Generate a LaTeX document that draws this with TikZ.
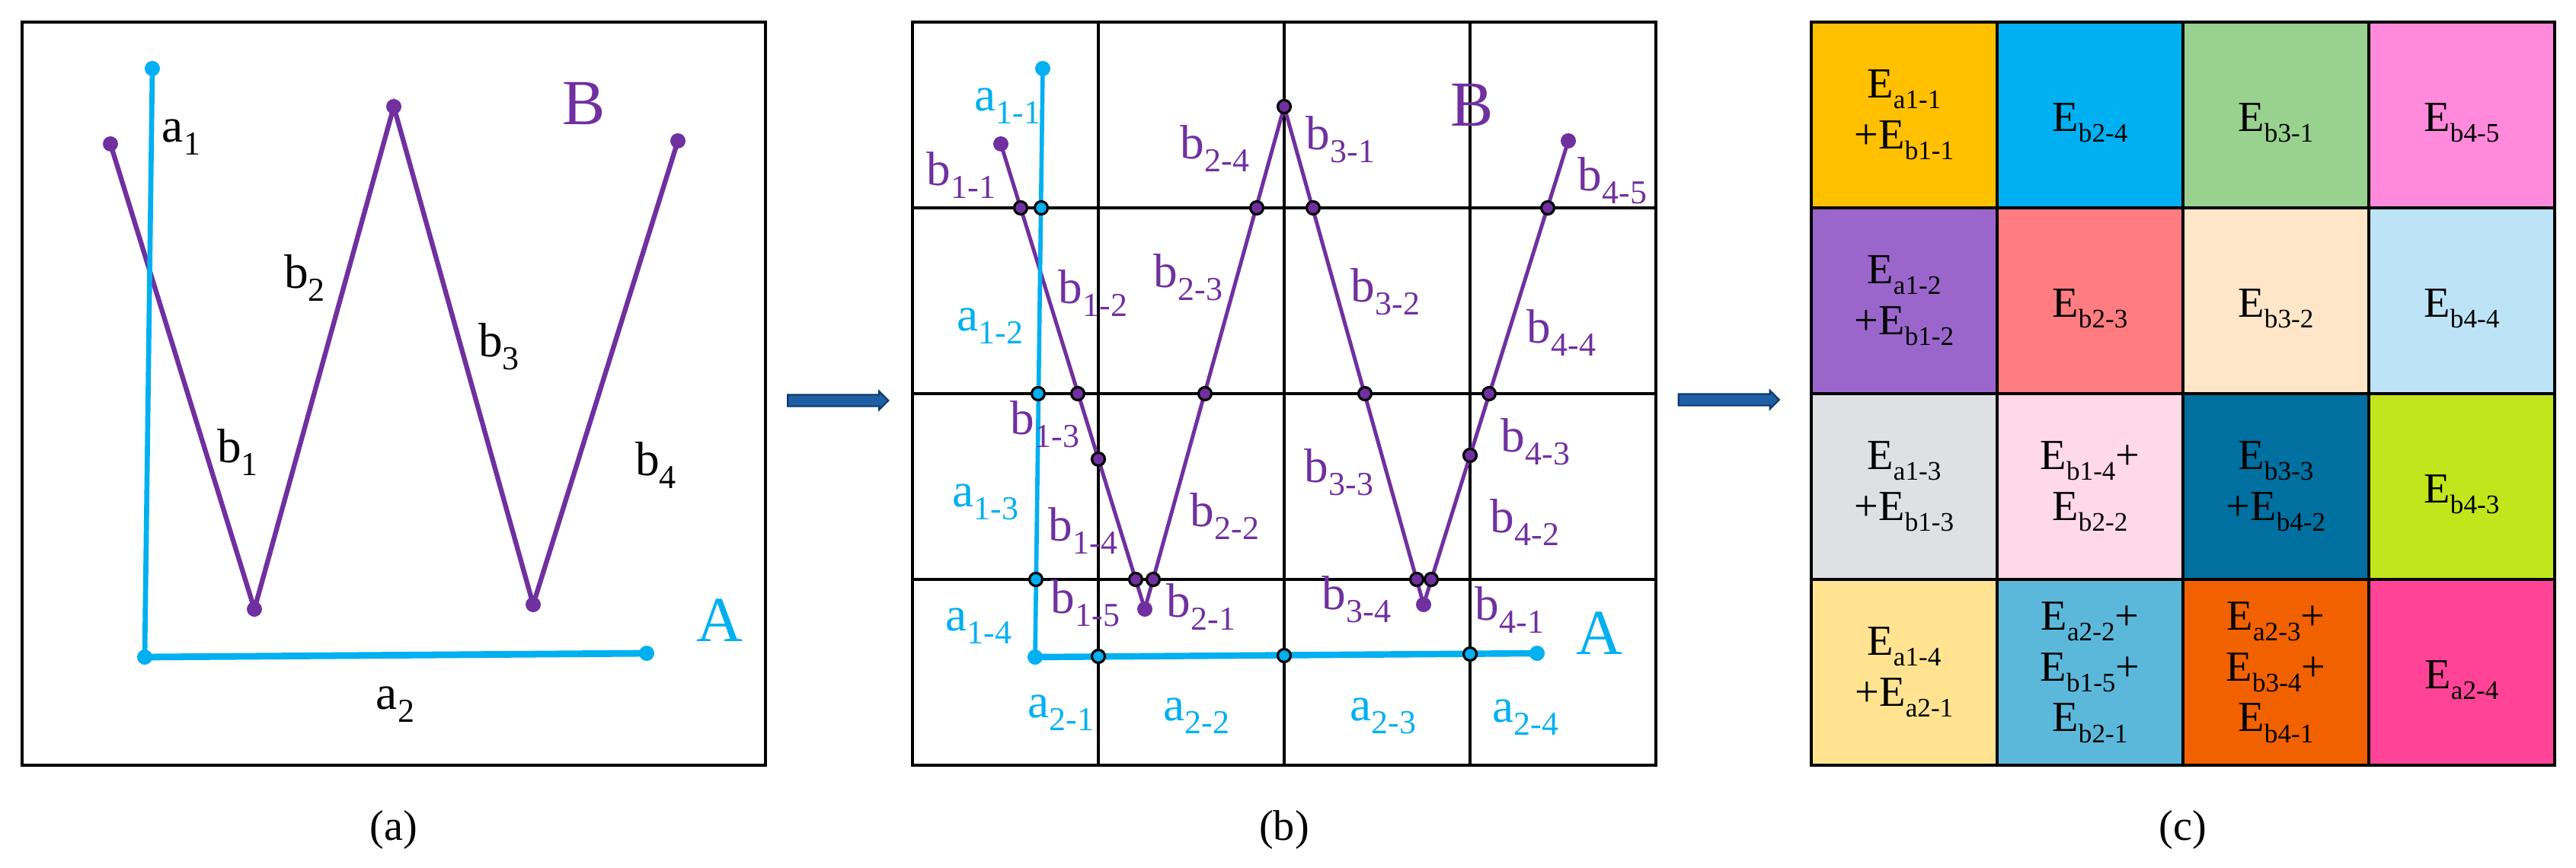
\documentclass[tikz,border=0pt]{standalone}
\usepackage{fontspec}
\setmainfont{Liberation Serif}
\usetikzlibrary{shapes.arrows}

\definecolor{apurple}{HTML}{7030A0}
\definecolor{acyan}{HTML}{00B0F0}
\definecolor{arrowfill}{HTML}{1F5FA6}
\definecolor{arrowedge}{HTML}{0E3A6C}
% cell colours of (c)
\definecolor{cgold}{HTML}{FFC000}
\definecolor{csky}{HTML}{00B0F0}
\definecolor{cgreen}{HTML}{99D18F}
\definecolor{cpink}{HTML}{FF89DA}
\definecolor{cviolet}{HTML}{9B66CC}
\definecolor{csalmon}{HTML}{FF7C80}
\definecolor{cbisque}{HTML}{FFE6C9}
\definecolor{cice}{HTML}{BDE3F7}
\definecolor{cgrey}{HTML}{DEE0E3}
\definecolor{crose}{HTML}{FFD9E8}
\definecolor{cteal}{HTML}{0070A0}
\definecolor{clime}{HTML}{C2E61B}
\definecolor{ccream}{HTML}{FFE391}
\definecolor{cblue}{HTML}{5CB8DA}
\definecolor{corange}{HTML}{F26100}
\definecolor{cmagenta}{HTML}{FF4497}

\newcommand{\lsub}[1]{\raisebox{-0.27em}{\fontsize{12.5}{14}\selectfont #1}}
\newcommand{\esub}[1]{\raisebox{-0.25em}{\fontsize{10}{12}\selectfont #1}}

\begin{document}
\begin{tikzpicture}[
    frame/.style={line width=1.4pt},
    gridline/.style={line width=1pt},
    bline/.style={draw=apurple, line width=1.8pt},
    aline/.style={draw=acyan, line width=1.9pt},
    hline/.style={draw=acyan, line width=2.5pt},
    xdot/.style={draw=black, line width=0.9pt},
    klab/.style={inner sep=0pt, font=\fontsize{18}{20}\selectfont},
    blab/.style={klab, text=apurple},
    alab/.style={klab, text=acyan},
    biglab/.style={inner sep=0pt, font=\fontsize{24}{26}\selectfont},
    caption/.style={inner sep=0pt, font=\fontsize{16}{18}\selectfont},
    cell/.style={draw, line width=1.2pt, minimum size=2.44cm, inner sep=0pt, align=center, font=\fontsize{16}{19}\selectfont, execute at begin node={\rule{0pt}{16.3pt}}},
    panelarrow/.style={single arrow, draw=arrowedge, fill=arrowfill, line width=0.6pt, inner sep=0.065cm, minimum height=1.32cm, single arrow head extend=0.045cm, single arrow tip angle=90}
]
    \useasboundingbox (0,0) rectangle (33.82,11.39);

    % (a) the two lines
    \begin{scope}[shift={(0.29,1.34)}]
        \coordinate (pa0) at (1.16,8.16);
        \coordinate (pa1) at (3.05,2.05);
        \coordinate (pa2) at (4.88,8.65);
        \coordinate (pa3) at (6.71,2.11);
        \coordinate (pa4) at (8.61,8.20);
        \coordinate (qa0) at (1.71,9.15);
        \coordinate (qa1) at (1.61,1.42);
        \coordinate (qa2) at (8.20,1.47);
        \draw[frame] (0,0) rectangle (9.76,9.76);
        \draw[bline] (pa0) -- (pa1) -- (pa2) -- (pa3) -- (pa4);
        \draw[aline] (qa0) -- (qa1);
        \draw[hline] (qa1) -- (qa2);
        \foreach \p in {pa0,pa1,pa2,pa3,pa4}
            \fill[apurple] (\p) circle (0.1);
        \foreach \p in {qa0,qa1,qa2}
            \fill[acyan] (\p) circle (0.1);
        % Labels
        \node[klab] (ta1) at (2.09,8.25) {a\lsub{1}};
        \node[klab] (tb2) at (3.71,6.40) {b\lsub{2}};
        \node[klab] (tb3) at (6.26,5.50) {b\lsub{3}};
        \node[klab] (tb1) at (2.83,4.11) {b\lsub{1}};
        \node[klab] (tb4) at (8.32,3.94) {b\lsub{4}};
        \node[klab] (ta2) at (4.90,0.80) {a\lsub{2}};
        \node[biglab, text=apurple] (tB) at (7.38,8.69) {B};
        \node[biglab, text=acyan] (tA) at (9.16,1.90) {A};
        \node[caption] (capa) at (4.88,-0.85) {(a)};
    \end{scope}

    % (b) the lines cut by the grid
    \begin{scope}[shift={(11.98,1.34)}]
        \coordinate (pb0) at (1.16,8.16);
        \coordinate (pb1) at (3.05,2.05);
        \coordinate (pb2) at (4.88,8.65);
        \coordinate (pb3) at (6.71,2.11);
        \coordinate (pb4) at (8.61,8.20);
        \coordinate (qb0) at (1.71,9.15);
        \coordinate (qb1) at (1.61,1.42);
        \coordinate (qb2) at (8.20,1.47);
        \foreach \k in {2.44,4.88,7.32} {
            \draw[gridline] (\k,0) -- (\k,9.76);
            \draw[gridline] (0,\k) -- (9.76,\k);
        }
        \draw[frame] (0,0) rectangle (9.76,9.76);
        \draw[bline, line width=1.4pt] (pb0) -- (pb1) -- (pb2) -- (pb3) -- (pb4);
        \draw[aline, line width=1.6pt] (qb0) -- (qb1);
        \draw[hline, line width=2.4pt] (qb1) -- (qb2);
        \foreach \p in {pb0,pb1,pb3,pb4}
            \fill[apurple] (\p) circle (0.1);
        \foreach \p in {qb0,qb1,qb2}
            \fill[acyan] (\p) circle (0.1);
        % cut points
        \foreach \p in {(1.42,7.32),(2.17,4.88),(2.93,2.44),(2.44,4.02),(3.16,2.44),(3.84,4.88),(4.52,7.32),(4.88,8.65),(5.26,7.32),(5.94,4.88),(6.62,2.44),(6.81,2.44),(7.57,4.88),(8.34,7.32),(7.32,4.07)}
            \filldraw[xdot, fill=apurple] \p circle (0.085);
        \foreach \p in {(1.69,7.32),(1.65,4.88),(1.62,2.44),(2.44,1.43),(4.88,1.44),(7.32,1.46)}
            \filldraw[xdot, fill=acyan] \p circle (0.085);
        % Labels
        \foreach \nm/\x/\y/\s in {lb11/0.64/7.75/1-1, lb24/3.97/8.10/2-4, lb31/5.62/8.22/3-1, lb45/9.19/7.68/4-5,
                lb12/2.37/6.20/1-2, lb23/3.62/6.41/2-3, lb32/6.21/6.22/3-2, lb44/8.52/5.68/4-4,
                lb13/1.74/4.48/1-3, lb43/8.18/4.25/4-3, lb33/5.60/3.85/3-3, lb14/2.24/3.08/1-4,
                lb22/4.10/3.27/2-2, lb42/8.04/3.19/4-2, lb15/2.27/2.13/1-5, lb21/3.79/2.08/2-1,
                lb34/5.83/2.18/3-4, lb41/7.84/2.04/4-1}
            \node[blab] (\nm) at (\x,\y) {b\lsub{\s}};
        \foreach \nm/\x/\y/\s in {la11/1.25/8.66/1-1, la12/1.02/5.77/1-2, la13/0.96/3.46/1-3, la14/0.87/1.83/1-4,
                la21/1.95/0.69/2-1, la22/3.73/0.65/2-2, la23/6.18/0.65/2-3, la24/8.05/0.63/2-4}
            \node[alab] (\nm) at (\x,\y) {a\lsub{\s}};
        \node[biglab, text=apurple] (uB) at (7.35,8.67) {B};
        \node[biglab, text=acyan] (uA) at (9.02,1.73) {A};
        \node[caption] (capb) at (4.88,-0.85) {(b)};
    \end{scope}

    % (c) energy of each cell
    \begin{scope}[shift={(23.78,1.34)}]
        \node[cell, fill=cgold] (c11) at (1.22,8.54) {E\esub{a1-1}\\+E\esub{b1-1}};
        \node[cell, fill=csky] (c12) at (3.66,8.54) {E\esub{b2-4}};
        \node[cell, fill=cgreen] (c13) at (6.10,8.54) {E\esub{b3-1}};
        \node[cell, fill=cpink] (c14) at (8.54,8.54) {E\esub{b4-5}};
        \node[cell, fill=cviolet] (c21) at (1.22,6.10) {E\esub{a1-2}\\+E\esub{b1-2}};
        \node[cell, fill=csalmon] (c22) at (3.66,6.10) {E\esub{b2-3}};
        \node[cell, fill=cbisque] (c23) at (6.10,6.10) {E\esub{b3-2}};
        \node[cell, fill=cice] (c24) at (8.54,6.10) {E\esub{b4-4}};
        \node[cell, fill=cgrey] (c31) at (1.22,3.66) {E\esub{a1-3}\\+E\esub{b1-3}};
        \node[cell, fill=crose] (c32) at (3.66,3.66) {E\esub{b1-4}+\\E\esub{b2-2}};
        \node[cell, fill=cteal] (c33) at (6.10,3.66) {E\esub{b3-3}\\+E\esub{b4-2}};
        \node[cell, fill=clime] (c34) at (8.54,3.66) {E\esub{b4-3}};
        \node[cell, fill=ccream] (c41) at (1.22,1.22) {E\esub{a1-4}\\+E\esub{a2-1}};
        \node[cell, fill=cblue] (c42) at (3.66,1.22) {E\esub{a2-2}+\\E\esub{b1-5}+\\E\esub{b2-1}};
        \node[cell, fill=corange] (c43) at (6.10,1.22) {E\esub{a2-3}+\\E\esub{b3-4}+\\E\esub{b4-1}};
        \node[cell, fill=cmagenta] (c44) at (8.54,1.22) {E\esub{a2-4}};
        \node[caption] (capc) at (4.88,-0.85) {(c)};
    \end{scope}

    % Arrows
    \node[panelarrow] (arrab) at (10.965,6.13) {};
    \node[panelarrow] (arrbc) at (22.66,6.14) {};
\end{tikzpicture}
\end{document}
